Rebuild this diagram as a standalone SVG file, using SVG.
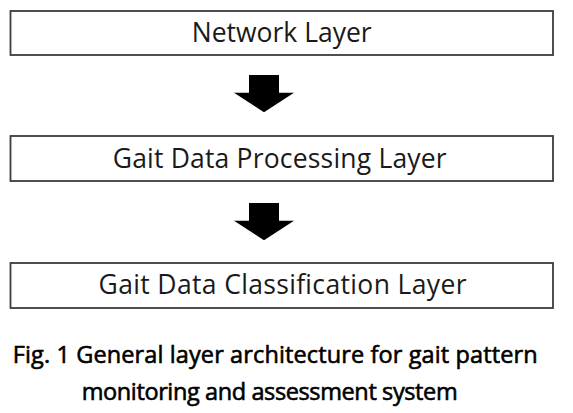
<svg xmlns="http://www.w3.org/2000/svg" width="573" height="413" viewBox="0 0 573 413">
<style>
.box{fill:#ffffff;stroke:#3c3c3c;stroke-width:1.8}
.lbl{font-family:"Open Sans","Noto Sans","Liberation Sans",sans-serif;font-size:26.5px;fill:#1a1a1a;text-anchor:middle}
.arrow{fill:#000000}
.cap{font-family:"Open Sans","Noto Sans","Liberation Sans",sans-serif;font-size:23.5px;fill:#000000;stroke:#000000;stroke-width:0.6}
</style>
<rect width="573" height="413" fill="#ffffff"/>
<g id="network-layer">
<rect class="box" x="10.5" y="11" width="542.5" height="44"/>
<text class="lbl" x="281.7" y="42.3" textLength="180">Network Layer</text>
</g>
<g id="processing-layer">
<rect class="box" x="10.5" y="136" width="542.5" height="45"/>
<text class="lbl" x="279.7" y="167.5" textLength="334">Gait Data Processing Layer</text>
</g>
<g id="classification-layer">
<rect class="box" x="10.5" y="263" width="542.5" height="45"/>
<text class="lbl" x="282.5" y="293.5" textLength="368">Gait Data Classification Layer</text>
</g>
<g id="connectors">
<polygon class="arrow" points="249,75 279,75 279,92.7 294,92.7 264,112.3 234,92.7 249,92.7"/>
<polygon class="arrow" points="249,203 279,203 279,220.7 294,220.7 264,240.3 234,220.7 249,220.7"/>
</g>
<g id="caption">
<text class="cap" x="12.7" y="362.5" textLength="525">Fig. 1 General layer architecture for gait pattern</text>
<text class="cap" x="81.7" y="399.5" textLength="376">monitoring and assessment system</text>
</g>
</svg>
